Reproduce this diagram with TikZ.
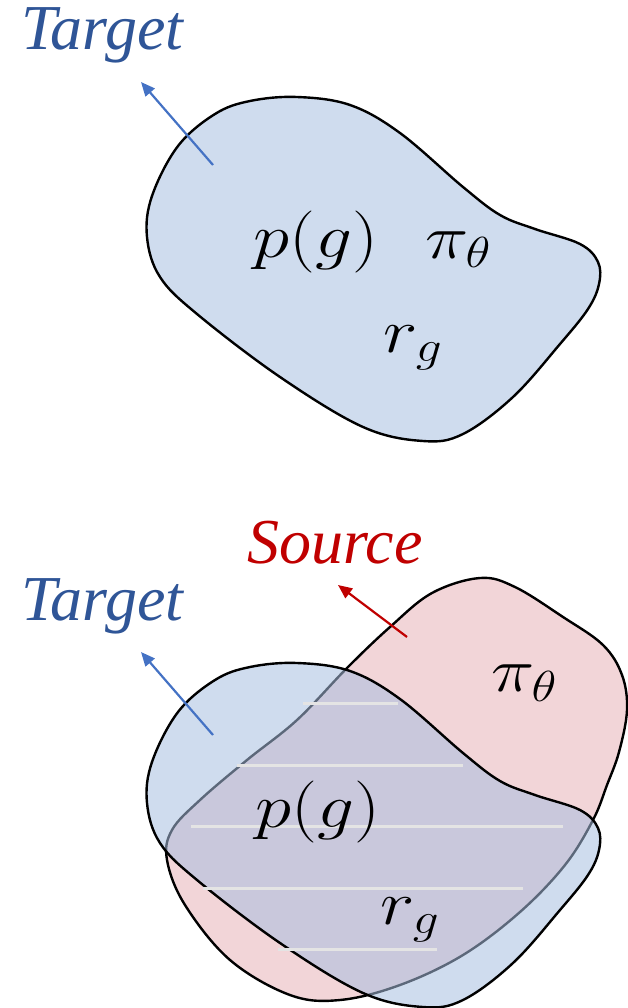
\RequirePackage{fix-cm}
\documentclass[tikz,border=0pt]{standalone}
\usepackage{fontspec}
\newfontfamily\tnr{Liberation Serif}
\usetikzlibrary{arrows.meta}
\definecolor{tblue}{HTML}{2F5597}
\definecolor{arrblue}{HTML}{4472C4}
\definecolor{sred}{HTML}{C00000}
\definecolor{bluefill}{RGB}{168,191,224}
\definecolor{pinkfill}{HTML}{F2D5D8}
\definecolor{hatch}{HTML}{E4E4E4}
\tikzset{
  blob/.style={draw=black, line width=2.4pt, line join=round},
  targetblob/.style={blob, fill=bluefill, fill opacity=0.55},
  sourceblob/.style={blob, fill=pinkfill},
  lbl/.style={font=\fontsize{62}{72}\selectfont, inner sep=0pt, xscale=1.18},
  word/.style={font=\tnr\itshape\fontsize{64}{74}\selectfont, inner sep=0pt},
  arr/.style={line width=2.2pt, -{Triangle[length=14pt,width=12pt]}},
  hatchline/.style={draw=hatch, line width=3pt}
}
\newcommand{\blueshape}{%
  \draw[targetblob] plot[smooth cycle, tension=0.6] coordinates {
    (297,663) (350,671) (400,699) (463,753) (500,781) (535,795) (580,810)
    (598,828) (599,850) (588,875) (560,910) (513,963) (463,1000) (423,1007)
    (363,993) (280,943) (197,880) (160,843) (147,803) (152,762) (178,712)
    (215,680) (250,667)};}
\begin{document}
\begin{tikzpicture}[x=1pt, y=-1pt]
\useasboundingbox (0,0) rectangle (628,1008);
% ---------- top ----------
\begin{scope}[yshift=566pt]
  \blueshape
\end{scope}
\node[word, text=tblue, anchor=base west] (target1) at (21,50) {Target};
\coordinate (t1tail) at (213,165);
\coordinate (t1tip) at (141,82);
\draw[arr, arrblue] (t1tail) -- (t1tip);
\node[lbl] (pg1) at (316,242) {$p(g)$};
\node[lbl] (pi1) at (458,250) {$\pi_\theta$};
\node[lbl] (rg1) at (413,348) {$r_g$};
% ---------- bottom ----------
\draw[sourceblob] plot[smooth cycle, tension=0.6] coordinates {
  (480,578) (515,587) (563,617) (603,645) (622,675) (627,710) (619,752)
  (607,785) (593,820) (565,865) (520,912) (463,955) (400,985) (340,1000)
  (290,995) (230,960) (185,905) (167,860) (172,830) (200,800) (247,760)
  (297,720) (347,668) (390,627) (432,593)};
\blueshape
\draw[hatchline] (303,703) -- (398,703);
\draw[hatchline] (237,765) -- (463,765);
\draw[hatchline] (191,826) -- (563,826);
\draw[hatchline] (203,888) -- (523,888);
\draw[hatchline] (278,949) -- (437,949);
\node[word, text=sred, anchor=base west] (source) at (247,563) {Source};
\node[word, text=tblue, anchor=base west] (target2) at (21,620) {Target};
\coordinate (t2tail) at (213,735);
\coordinate (t2tip) at (141,652);
\draw[arr, arrblue] (t2tail) -- (t2tip);
\coordinate (stail) at (407,637);
\coordinate (stip) at (338,585);
\draw[arr, sred] (stail) -- (stip);
\node[lbl] (pg2) at (318,812) {$p(g)$};
\node[lbl] (pi2) at (524,683) {$\pi_\theta$};
\node[lbl] (rg2) at (410,920) {$r_g$};
\end{tikzpicture}
\end{document}
